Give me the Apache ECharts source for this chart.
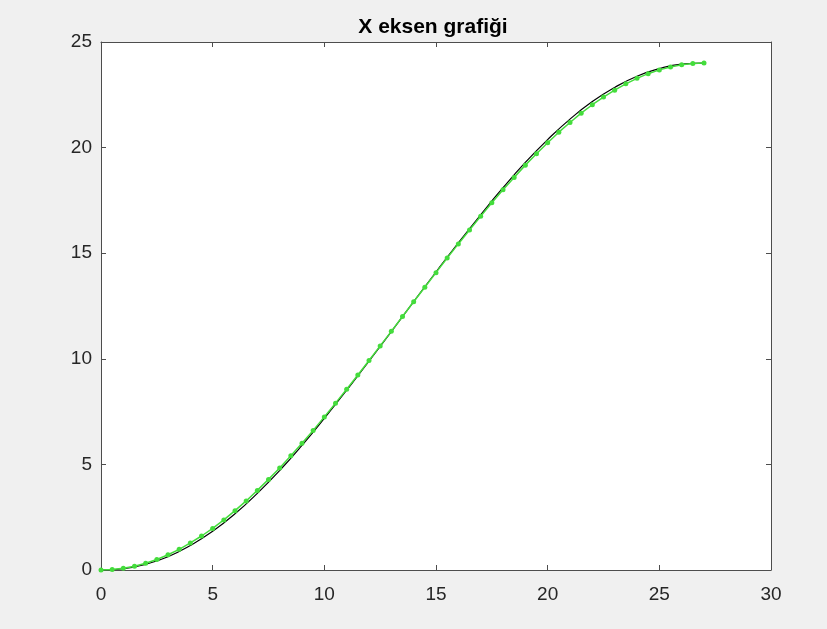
<!DOCTYPE html>
<html>
<head>
<meta charset="utf-8">
<title>X eksen grafiği</title>
<script src="https://cdn.jsdelivr.net/npm/echarts@6/dist/echarts.min.js"></script>
<style>
  html, body { margin: 0; padding: 0; background: #f0f0f0; }
  #chart { width: 827px; height: 629px; }
</style>
</head>
<body>
<div id="chart"></div>
<script>
// green sampled trajectory (every 0.5 on x)
const greenX = [0, 0.5, 1, 1.5, 2, 2.5, 3, 3.5, 4, 4.5, 5, 5.5, 6, 6.5, 7, 7.5, 8, 8.5, 9, 9.5,
  10, 10.5, 11, 11.5, 12, 12.5, 13, 13.5, 14, 14.5, 15, 15.5, 16, 16.5, 17, 17.5, 18, 18.5, 19, 19.5,
  20, 20.5, 21, 21.5, 22, 22.5, 23, 23.5, 24, 24.5, 25, 25.5, 26, 26.5, 27];
const greenY = [0, 0.02, 0.08, 0.18, 0.32, 0.50, 0.72, 0.98, 1.28, 1.61, 1.97, 2.37, 2.81, 3.27, 3.77, 4.29, 4.83, 5.41, 6.00, 6.61,
  7.25, 7.90, 8.56, 9.23, 9.92, 10.61, 11.30, 12.00, 12.70, 13.39, 14.08, 14.77, 15.44, 16.10, 16.75, 17.39, 18.00, 18.59, 19.17, 19.71,
  20.23, 20.73, 21.19, 21.63, 22.03, 22.39, 22.72, 23.02, 23.28, 23.50, 23.68, 23.82, 23.92, 23.98, 24.00];

// black reference curve
const blackX = [0, 1, 2, 3, 4, 5, 6, 7, 8, 9, 10, 11, 12, 13, 14, 15, 16, 17, 18, 19, 20, 21, 22, 23, 24, 25, 26, 27];
const blackY = [0, 0.06, 0.27, 0.63, 1.16, 1.83, 2.66, 3.63, 4.71, 5.90, 7.18, 8.51, 9.89, 11.29, 12.71, 14.11, 15.49, 16.82, 18.10, 19.30,
  20.38, 21.35, 22.18, 22.85, 23.38, 23.74, 23.95, 24.00];

const xTicks = { min: 0, max: 30, interval: 5 };
const yTicks = { min: 0, max: 25, interval: 5 };

const chart = echarts.init(document.getElementById('chart'));

const fontFam = '"Liberation Sans", Arial, Helvetica, sans-serif';
const axisCol = '#4d4d4d';

function pairs(xs, ys) {
  const out = [];
  for (let i = 0; i < xs.length; i++) out.push([xs[i], ys[i]]);
  return out;
}

function mkAxis(base, pos, labels) {
  return Object.assign({
    type: 'value',
    position: pos,
    axisLine: { show: true, onZero: false, lineStyle: { color: axisCol, width: 1 } },
    axisTick: { show: true, inside: true, length: 5, lineStyle: { color: axisCol } },
    splitLine: { show: false },
    axisLabel: {
      show: labels,
      color: '#262626',
      fontSize: 19,
      fontFamily: fontFam,
      margin: pos === 'bottom' ? 15 : 9
    }
  }, base);
}

chart.setOption({
  backgroundColor: '#f0f0f0',
  animation: false,
  title: {
    text: 'X eksen grafiği',
    left: 428,
    top: 12,
    textAlign: 'center',
    textStyle: { fontSize: 21, fontWeight: 'bold', color: '#000', fontFamily: fontFam }
  },
  grid: {
    left: 101, right: 56, top: 42, bottom: 59,
    show: true, backgroundColor: '#ffffff', borderWidth: 0
  },
  xAxis: [
    mkAxis(xTicks, 'bottom', true),
    mkAxis(xTicks, 'top', false)
  ],
  yAxis: [
    mkAxis(yTicks, 'left', true),
    mkAxis(yTicks, 'right', false)
  ],
  series: [
    {
      name: 'ref',
      type: 'line',
      data: pairs(blackX, blackY),
      smooth: true,
      showSymbol: false,
      lineStyle: { color: '#000000', width: 1.2 },
      z: 2
    },
    {
      name: 'x',
      type: 'line',
      data: pairs(greenX, greenY),
      symbol: 'circle',
      symbolSize: 5,
      itemStyle: { color: '#44dd3c' },
      lineStyle: { color: '#44dd3c', width: 1.5 },
      z: 3
    }
  ]
});
</script>
</body>
</html>
